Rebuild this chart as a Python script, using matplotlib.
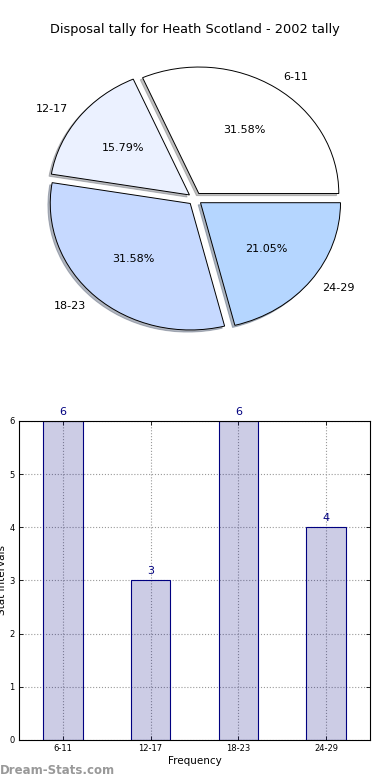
import matplotlib
matplotlib.use("Agg")
import matplotlib.pyplot as plt

title = "Disposal tally for Heath Scotland - 2002 tally"
categories = ["6-11", "12-17", "18-23", "24-29"]
counts = [6, 3, 6, 4]
pie_colors = ["#FFFFFF", "#EBF1FF", "#C6D9FF", "#B5D6FF"]
yticks = [0, 1, 2, 3, 4, 5, 6]

fig = plt.figure(figsize=(3.9, 7.8), dpi=100)
fig.patch.set_facecolor("white")

# Pie
axp = fig.add_axes([0.0692, 0.5505, 0.8615, 0.3892])
wedges, texts, autotexts = axp.pie(
    counts, labels=categories, colors=pie_colors, explode=[0.05] * 4,
    autopct="%.2f%%", shadow={"ox": -0.012, "oy": -0.012, "shade": 0.5},
    startangle=0, counterclock=True,
    wedgeprops=dict(edgecolor="black", linewidth=0.7),
    textprops=dict(fontsize=8, color="black"))
axp.set_aspect("auto")
axp.set_xlim(-1.2, 1.2)
axp.set_ylim(-1.2, 1.2)
axp.axis("off")
fig.text(0.5, 1 - 30 / 780, title, ha="center", va="center", fontsize=9.3)

# Bars
axb = fig.add_axes([0.0487, 0.0513, 0.9, 0.409])
x = list(range(len(categories)))
axb.bar(x, counts, width=0.45, color=(0, 0, 0.5, 0.2), edgecolor="#000080",
        linewidth=0.8, zorder=2)
for xi, c in zip(x, counts):
    axb.text(xi, c + 0.08, str(c), ha="center", va="bottom", color="#000080",
             fontsize=8, zorder=3)
axb.set_xlim(-0.5, 3.5)
axb.set_ylim(0, 6)
axb.set_xticks(x)
axb.set_xticklabels(categories, fontsize=6)
axb.set_yticks(yticks)
axb.set_yticklabels([str(t) for t in yticks], fontsize=6)
axb.tick_params(direction="in", length=3, width=0.6, pad=3, top=True, right=True)
axb.grid(True, linestyle=":", color="#999999", linewidth=0.8, zorder=0)
axb.set_axisbelow(True)
for s in axb.spines.values():
    s.set_linewidth(0.8)
axb.set_xlabel("Frequency", fontsize=7.5, labelpad=2)
axb.set_ylabel("Stat Intervals", fontsize=7.5, labelpad=2)

fig.text(0.0, 1 - 770 / 780, "Dream-Stats.com", ha="left", va="center",
         fontsize=8.5, color="#999999", fontweight="bold")

fig.savefig("out.png", dpi=100)
